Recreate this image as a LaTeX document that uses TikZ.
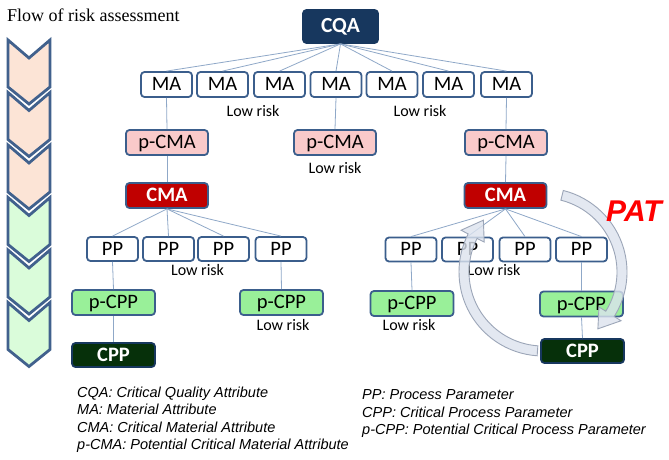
\documentclass[tikz,border=0pt]{standalone}
\usepackage{fontspec}
\setmainfont{Liberation Serif}
\newfontfamily\boxfont{Carlito}
\newfontfamily\legfont{Liberation Sans}
\usetikzlibrary{calc}
\definecolor{bordc}{HTML}{3B5E8C}
\definecolor{connc}{HTML}{8FA8C8}
\definecolor{cqac}{HTML}{17375E}
\definecolor{pcmac}{HTML}{F9CACA}
\definecolor{cmac}{HTML}{C00000}
\definecolor{pcppc}{HTML}{99F099}
\definecolor{cppc}{HTML}{06300A}
\definecolor{peach}{HTML}{FCE4D6}
\definecolor{paleg}{HTML}{DAFCDA}
\definecolor{chevb}{HTML}{41618D}
\definecolor{patfill}{HTML}{DCE3EE}
\definecolor{patdraw}{HTML}{9CA6B8}
\definecolor{patred}{HTML}{FF0000}
\tikzset{
  box/.style={draw=bordc, line width=1.8pt, rounded corners=3.5pt, inner sep=0pt,
    font=\boxfont\fontsize{20.5}{20.5}\selectfont, text=black, text height=13.2pt, text depth=1pt},
  smallbox/.style={box, fill=white, minimum width=51pt, minimum height=25pt},
  pcmabox/.style={box, fill=pcmac, minimum width=82pt, minimum height=25pt},
  cmabox/.style={box, fill=cmac, text=white, minimum width=82pt, minimum height=25pt,
    font=\boxfont\bfseries\fontsize{20.5}{20.5}\selectfont},
  pcppbox/.style={box, fill=pcppc, minimum width=83pt, minimum height=25pt},
  cppbox/.style={box, fill=cppc, draw=cqac, text=white, minimum width=83pt, minimum height=24pt,
    font=\boxfont\bfseries\fontsize{20.5}{20.5}\selectfont},
  cqabox/.style={box, fill=cqac, draw=cqac, text=white, minimum width=75pt, minimum height=33pt,
    font=\boxfont\bfseries\fontsize{21.5}{21.5}\selectfont},
  lowrisk/.style={inner sep=0pt, font=\boxfont\fontsize{16}{16}\selectfont},
  conn/.style={draw=connc, line width=0.8pt},
  chev/.style={draw=chevb, line width=2.8pt, line join=miter},
  patarrow/.style={fill=patfill, fill opacity=0.8, draw=patdraw, line width=0.9pt},
  legend/.style={anchor=base west, inner sep=0pt, font=\legfont\itshape\fontsize{14.5}{14.5}\selectfont},
}
\begin{document}
\begin{tikzpicture}[x=1pt,y=1pt]
\useasboundingbox (0,0) rectangle (669,-460);
\fill[white] (0,0) rectangle (669,-460);

% title
\node[anchor=base west, inner sep=0pt, font=\fontsize{18}{18}\selectfont] (title) at (7,-22) {Flow of risk assessment};

% chevrons
\foreach \i in {0,...,5}{
  \pgfmathsetmacro{\yt}{-40-52.5*\i}
  \ifnum\i<3 \def\cc{peach}\else\def\cc{paleg}\fi
  \filldraw[chev, fill=\cc] (8,\yt) -- (29,\yt-18) -- (50,\yt) -- (50,\yt-47) -- (29,\yt-64) -- (8,\yt-47) -- cycle;
}

% nodes
\node[cqabox] (cqa) at (340.5,-26.5) {CQA};
\foreach \n/\x in {1/166.5,2/222.5,3/279.5,4/336,5/392,6/448.5,7/506.5}
  \node[smallbox] (ma\n) at (\x,-84.5) {MA};
\node[lowrisk] (lr1) at (253,-111) {Low risk};
\node[lowrisk] (lr2) at (420,-111) {Low risk};
\node[pcmabox] (pcma1) at (167,-142.5) {p-CMA};
\node[pcmabox] (pcma2) at (335,-142.5) {p-CMA};
\node[pcmabox] (pcma3) at (506,-142.5) {p-CMA};
\node[lowrisk] (lr3) at (335,-168) {Low risk};
\node[cmabox] (cma1) at (167,-195.5) {CMA};
\node[cmabox] (cma2) at (505.5,-195.5) {CMA};
\foreach \n/\x in {1/112.5,2/168.5,3/223.5,4/281}
  \node[smallbox, minimum height=24pt] (ppL\n) at (\x,-249) {PP};
\foreach \n/\x in {1/411,2/467.5,3/525,4/581.5}
  \node[smallbox, minimum height=24pt] (ppR\n) at (\x,-249.5) {PP};
\node[lowrisk] (lr4) at (197.5,-270) {Low risk};
\node[lowrisk] (lr6) at (494,-270) {Low risk};
\node[pcppbox] (pcppL1) at (113.5,-302.5) {p-CPP};
\node[pcppbox] (pcppL2) at (281.5,-302.5) {p-CPP};
\node[pcppbox] (pcppR1) at (412,-303.5) {p-CPP};
\node[pcppbox] (pcppR2) at (581.5,-304) {p-CPP};
\node[lowrisk] (lr5) at (283,-325) {Low risk};
\node[lowrisk] (lr7) at (409,-325) {Low risk};
\node[cppbox] (cppL) at (113.5,-355) {CPP};
\node[cppbox] (cppR) at (582.5,-351) {CPP};

% connectors
\foreach \n in {1,...,7} \draw[conn] (cqa.south) -- (ma\n.north);
\draw[conn] (ma1.south) -- (pcma1.north);
\draw[conn] (ma4.south) -- (pcma2.north);
\draw[conn] (ma7.south) -- (pcma3.north);
\draw[conn] (pcma1.south) -- (cma1.north);
\draw[conn] (pcma3.south) -- (cma2.north);
\foreach \n in {1,...,4} \draw[conn] (cma1.south) -- (ppL\n.north);
\foreach \n in {1,...,4} \draw[conn] (cma2.south) -- (ppR\n.north);
\draw[conn] (ppL1.south) -- (pcppL1.north);
\draw[conn] (pcppL1.south) -- (cppL.north);
\draw[conn] (ppL4.south) -- (pcppL2.north);
\draw[conn] (ppR1.south) -- (pcppR1.north);
\draw[conn] (ppR4.south) -- (pcppR2.north);
\draw[conn] (pcppR2.south) -- (cppR.north);

% PAT cycle arrows
\coordinate (C) at (543,-272);
\path[patarrow] ($(C)+(76:84pt)$) arc[start angle=76, end angle=-32, radius=84pt]
  -- ($(C)+(-32:92pt)$) -- ($(C)+(-46:79pt)$) -- ($(C)+(-32:66pt)$) -- ($(C)+(-32:74pt)$)
  arc[start angle=-32, end angle=76, radius=74pt] -- cycle;
\path[patarrow] ($(C)+(266:84pt)$) arc[start angle=266, end angle=153, radius=84pt]
  -- ($(C)+(153:92pt)$) -- ($(C)+(139:79pt)$) -- ($(C)+(153:66pt)$) -- ($(C)+(153:74pt)$)
  arc[start angle=153, end angle=266, radius=74pt] -- cycle;
\node[inner sep=0pt, text=patred, font=\legfont\bfseries\itshape\fontsize{30}{30}\selectfont] (pat) at (634,-211) {PAT};

% legend
\node[legend] (leg1) at (77,-397) {CQA: Critical Quality Attribute};
\node[legend] (leg2) at (77,-414.5) {MA: Material Attribute};
\node[legend] (leg3) at (77,-432) {CMA: Critical Material Attribute};
\node[legend] (leg4) at (77,-449.5) {p-CMA: Potential Critical Material Attribute};
\node[legend] (leg5) at (362,-399.5) {PP: Process Parameter};
\node[legend] (leg6) at (362,-417) {CPP: Critical Process Parameter};
\node[legend] (leg7) at (362,-434.5) {p-CPP: Potential Critical Process Parameter};
\end{tikzpicture}
\end{document}
